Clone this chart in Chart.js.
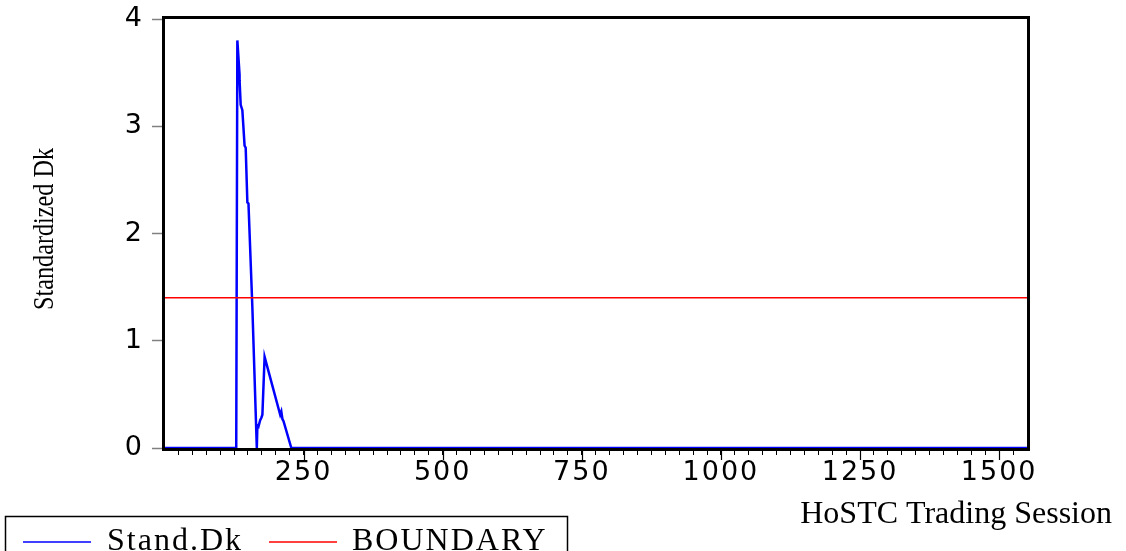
<!DOCTYPE html>
<html>
<head>
<meta charset="utf-8">
<script src="https://cdn.jsdelivr.net/npm/chart.js@4.4.1/dist/chart.umd.min.js"></script>
<style>
  html, body { margin: 0; padding: 0; background: #ffffff; overflow: hidden; }
  #wrap { position: relative; width: 1126px; height: 551px; }
</style>
</head>
<body>
<div id="wrap"><canvas id="chart" width="1126" height="551"></canvas></div>
<script>
// Trading session index and standardized Dk statistic
const sessions = [1, 129, 131, 135, 135, 137, 140, 144, 146, 149, 151, 158, 166, 167, 169, 172, 174, 176, 180, 208, 210, 212, 214, 228, 1550];
const standDk  = [0, 0, 3.80, 3.48, 3.43, 3.20, 3.15, 2.82, 2.80, 2.29, 2.28, 1.31, 0.00, 0.21, 0.20, 0.26, 0.28, 0.31, 0.85, 0.31, 0.34, 0.27, 0.25, 0.00, 0.00];

// Critical boundary
const boundarySessions = [1, 1550];
const boundaryValues   = [1.40, 1.40];

// Axis labels
const xLabelTicks = [250, 500, 750, 1000, 1250, 1500];
const yLabelTicks = [0, 1, 2, 3, 4];
const seriesNames = ['Stand.Dk', 'BOUNDARY'];
const seriesColors = ['#0000ff', '#ff0000'];
const xTitle = 'HoSTC Trading Session';
const yTitle = 'Standardized Dk';

const X_MIN = 1, X_MAX = 1550, MINOR_STEP = 25;

const toPoints = (xs, ys) => xs.map((x, i) => ({ x: x, y: ys[i] }));

// Slightly wide-set digits for the tick labels
const tickSpacingPlugin = {
  id: 'tickSpacing',
  beforeDraw(chart) { chart.ctx.letterSpacing = '2px'; },
  beforeDatasetsDraw(chart) { chart.ctx.letterSpacing = '0px'; }
};

// Box around the plot area, drawn under the lines
const framePlugin = {
  id: 'frame',
  beforeDatasetsDraw(chart) {
    const { ctx, chartArea: a } = chart;
    ctx.save();
    ctx.strokeStyle = '#000';
    ctx.lineWidth = 3;
    ctx.strokeRect(a.left - 1.5, a.top - 1.5, a.right - a.left + 3, a.bottom - a.top + 3);
    ctx.restore();
  }
};

// Longer marks at labelled sessions, titles and legend box
const decorPlugin = {
  id: 'decor',
  afterDraw(chart) {
    const { ctx, chartArea: a } = chart;
    const xs = chart.scales.x;
    ctx.save();
    ctx.letterSpacing = '0px';
    ctx.strokeStyle = '#000';
    ctx.lineWidth = 1.2;
    xLabelTicks.forEach(v => {
      const px = Math.round(xs.getPixelForValue(v)) + 0.5;
      ctx.beginPath();
      ctx.moveTo(px, a.bottom + 3);
      ctx.lineTo(px, a.bottom + 12);
      ctx.stroke();
    });

    // axis titles
    ctx.fillStyle = '#000';
    ctx.font = '32px "Liberation Serif"';
    ctx.textAlign = 'right';
    ctx.textBaseline = 'alphabetic';
    ctx.fillText(xTitle, 1112, 523);

    ctx.save();
    ctx.translate(53, 229);
    ctx.rotate(-Math.PI / 2);
    ctx.textAlign = 'center';
    ctx.font = '30px "Liberation Serif"';
    ctx.fillText(yTitle, 0, 0, 162);
    ctx.restore();

    // legend
    ctx.lineWidth = 1.5;
    ctx.strokeStyle = '#000';
    ctx.strokeRect(5.5, 516.5, 562, 60);
    const items = [
      { x0: 23, x1: 91, tx: 107 },
      { x0: 269, x1: 337, tx: 352 }
    ];
    ctx.font = '32px "Liberation Serif"';
    ctx.textAlign = 'left';
    ctx.letterSpacing = '2px';
    items.forEach((it, i) => {
      ctx.strokeStyle = seriesColors[i];
      ctx.lineWidth = 1.5;
      ctx.beginPath();
      ctx.moveTo(it.x0, 542);
      ctx.lineTo(it.x1, 542);
      ctx.stroke();
      ctx.fillStyle = '#000';
      ctx.fillText(seriesNames[i], it.tx, 550);
    });
    ctx.letterSpacing = '0px';
    ctx.restore();
  }
};

new Chart(document.getElementById('chart'), {
  type: 'line',
  data: {
    datasets: [
      {
        label: seriesNames[0],
        data: toPoints(sessions, standDk),
        borderColor: seriesColors[0],
        borderWidth: 2.5,
        pointRadius: 0,
        tension: 0,
        order: 1
      },
      {
        label: seriesNames[1],
        data: toPoints(boundarySessions, boundaryValues),
        borderColor: seriesColors[1],
        borderWidth: 1.5,
        pointRadius: 0,
        tension: 0,
        order: 0
      }
    ]
  },
  options: {
    responsive: false,
    animation: false,
    devicePixelRatio: 1,
    layout: { padding: { top: 19, right: 99, left: 0, bottom: 0 } },
    plugins: { legend: { display: false }, tooltip: { enabled: false } },
    scales: {
      x: {
        type: 'linear',
        min: X_MIN,
        max: X_MAX,
        afterBuildTicks(scale) {
          const t = [];
          for (let v = MINOR_STEP; v < X_MAX; v += MINOR_STEP) t.push({ value: v });
          scale.ticks = t;
        },
        afterFit(scale) {
          scale.height = 103;
          scale.paddingLeft = 0;
          scale.paddingRight = 0;
        },
        border: { display: false },
        grid: { drawOnChartArea: false, tickLength: 7, tickColor: '#000', tickWidth: 1 },
        ticks: {
          autoSkip: false,
          maxRotation: 0,
          padding: 2,
          color: '#000',
          font: { family: '"DejaVu Sans"', size: 27 },
          callback: v => (xLabelTicks.includes(v) ? String(v) : '')
        }
      },
      y: {
        min: 0,
        max: 4,
        afterBuildTicks(scale) { scale.ticks = yLabelTicks.map(v => ({ value: v })); },
        afterFit(scale) {
          scale.width = 165;
          scale.paddingTop = 0;
          scale.paddingBottom = 0;
        },
        border: { display: false },
        grid: { drawOnChartArea: false, tickLength: 13, tickColor: '#808080', tickWidth: 1.5 },
        ticks: {
          padding: 8,
          color: '#000',
          font: { family: '"DejaVu Sans"', size: 27 },
          callback: v => String(v)
        }
      }
    }
  },
  plugins: [tickSpacingPlugin, framePlugin, decorPlugin]
});
</script>
</body>
</html>
